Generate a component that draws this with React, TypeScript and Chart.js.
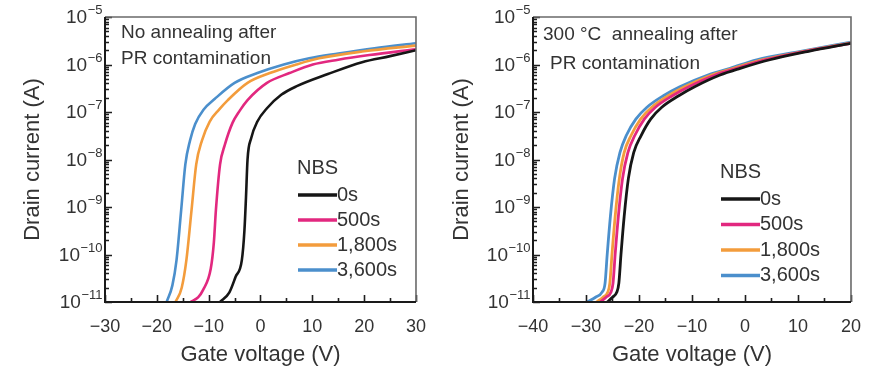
import React, { useEffect, useRef } from "react";
import { Chart, registerables } from "chart.js";

Chart.register(...registerables);

// ---------- shared labels ----------
const seriesLabels = ["0s", "500s", "1,800s", "3,600s"];
const seriesColors = ["#161616", "#e2287f", "#f39c3c", "#4b8fcc"];
const legendTitle = "NBS";
const xTitle = "Gate voltage (V)";
const yTitle = "Drain current (A)";
const yTickValues = [1e-11, 1e-10, 1e-9, 1e-8, 1e-7, 1e-6, 1e-5];
const yTickBase = "10";
const yTickExponents = ["\u221211", "\u221210", "\u22129", "\u22128", "\u22127", "\u22126", "\u22125"];
const leftNote = ["No annealing after", "PR contamination"];
const rightNote = ["300 \u00B0C  annealing after", "PR contamination"];

// ---------- left panel: no annealing ----------
const leftV0 = [-7.8, -6.0, -4.8, -3.6, -3.1, -2.8, -2.5, -1.8, -0.6, 1.25, 4.0, 7.0, 13.0, 19.6, 25.0, 30];
const leftI0 = [1.0e-11, 1.6e-11, 3.4e-11, 7.6e-11, 3.2e-10, 1.58e-9, 1.0e-8, 2.8e-8, 6.3e-8, 1.2e-7, 2.3e-7, 3.5e-7, 6.3e-7, 1.12e-6, 1.5e-6, 2.0e-6];
const leftV500 = [-13.5, -12.0, -11.1, -9.6, -9.0, -8.6, -7.8, -6.9, -5.4, -4.0, -2.5, 1.25, 5.6, 10.1, 15, 21, 30];
const leftI500 = [1.0e-11, 1.26e-11, 1.78e-11, 5.0e-11, 1.78e-10, 8.7e-10, 7.9e-9, 2.0e-8, 5.9e-8, 1.07e-7, 1.78e-7, 4.1e-7, 6.6e-7, 1.0e-6, 1.26e-6, 1.58e-6, 2.1e-6];
const leftV1800 = [-16.4, -15.2, -14.3, -13.3, -12.4, -11.3, -9.8, -8.0, -6.3, -2.5, 1.8, 6.9, 11.3, 20, 30];
const leftI1800 = [1.0e-11, 2.0e-11, 7.6e-11, 8.7e-10, 7.9e-9, 2.5e-8, 6.3e-8, 1.12e-7, 1.78e-7, 4.1e-7, 6.6e-7, 1.0e-6, 1.35e-6, 1.9e-6, 2.5e-6];
const leftV3600 = [-18.1, -17.0, -16.2, -15.3, -14.5, -13.6, -12.6, -11.0, -8.8, -5.0, -0.6, 4.5, 9.4, 15, 22, 30];
const leftI3600 = [1.0e-11, 2.24e-11, 7.6e-11, 8.7e-10, 7.9e-9, 2.5e-8, 5.6e-8, 1.12e-7, 1.9e-7, 4.1e-7, 6.6e-7, 1.0e-6, 1.35e-6, 1.7e-6, 2.2e-6, 2.8e-6];

// ---------- right panel: 300 °C annealing ----------
const rightV0 = [-26.0, -25.0, -24.2, -23.8, -23.4, -22.8, -22.0, -21.0, -19.6, -17.8, -15.7, -12.5, -9.5, -4.7, -0.9, 4.7, 12, 20];
const rightI0 = [1.0e-11, 1.26e-11, 1.6e-11, 2.5e-11, 1.0e-10, 6.3e-10, 4.0e-9, 1.4e-8, 3.2e-8, 7.1e-8, 1.26e-7, 2.2e-7, 3.4e-7, 6.0e-7, 8.3e-7, 1.26e-6, 1.9e-6, 2.8e-6];
const rightV500 = [-27.3, -26.2, -25.3, -24.9, -24.5, -23.9, -23.1, -22.1, -20.8, -19.0, -16.9, -13.7, -10.6, -5.6, -1.6, 4.0, 11.5, 20];
const rightI500 = [1.0e-11, 1.26e-11, 1.6e-11, 2.5e-11, 1.0e-10, 6.3e-10, 4.0e-9, 1.4e-8, 3.2e-8, 7.1e-8, 1.26e-7, 2.2e-7, 3.4e-7, 6.0e-7, 8.3e-7, 1.26e-6, 1.9e-6, 2.8e-6];
const rightV1800 = [-28.0, -26.8, -25.9, -25.5, -25.1, -24.5, -23.7, -22.8, -21.5, -19.7, -17.6, -14.5, -11.4, -6.3, -2.2, 3.4, 11.2, 20];
const rightI1800 = [1.0e-11, 1.26e-11, 1.6e-11, 2.5e-11, 1.0e-10, 6.3e-10, 4.0e-9, 1.4e-8, 3.2e-8, 7.1e-8, 1.26e-7, 2.2e-7, 3.4e-7, 6.0e-7, 8.3e-7, 1.26e-6, 1.9e-6, 2.85e-6];
const rightV3600 = [-29.8, -28.2, -27.0, -26.4, -26.0, -25.4, -24.6, -23.6, -22.4, -20.6, -18.5, -15.4, -12.3, -7.0, -2.8, 2.2, 10.5, 20];
const rightI3600 = [1.0e-11, 1.26e-11, 1.6e-11, 2.5e-11, 1.0e-10, 6.3e-10, 4.0e-9, 1.4e-8, 3.2e-8, 7.1e-8, 1.26e-7, 2.2e-7, 3.4e-7, 6.0e-7, 8.3e-7, 1.26e-6, 1.9e-6, 2.95e-6];

const FONT = '"Liberation Sans", Arial, Helvetica, sans-serif';
const TEXT = "#333333";

type PanelSpec = {
  width: number;
  xMin: number;
  xMax: number;
  yAxisWidth: number;
  padRight: number;
  yTitlePad: number;
  volts: number[][];
  currents: number[][];
  note: string[];
  noteX: number[];
  noteY: number[];
  legendX: number;
  legendTitleY: number;
  legendRowY: number;
  legendGap: number;
  legendLine: number;
  lineWidth: number;
};

const fmtX = (v: number) => (v < 0 ? "\u2212" + Math.abs(v) : String(v));

function framePlugin() {
  return {
    id: "frameTicks",
    afterDatasetsDraw(chart: any) {
      const { ctx, chartArea: a, scales } = chart;
      const xs = scales.x;
      const ys = scales.y;
      ctx.save();
      ctx.strokeStyle = "#1e1e1e";
      ctx.lineWidth = 1.6;
      ctx.beginPath();
      for (let v = xs.min; v <= xs.max + 1e-9; v += 5) {
        const px = Math.round(xs.getPixelForValue(v)) + 0.5;
        const len = Math.abs(v % 10) < 1e-9 ? 7 : 4;
        ctx.moveTo(px, a.bottom);
        ctx.lineTo(px, a.bottom - len);
      }
      for (let e = -11; e <= -5; e++) {
        for (let m = 1; m <= 9; m++) {
          const v = m * Math.pow(10, e);
          if (v > ys.max * 1.0001) break;
          const py = Math.round(ys.getPixelForValue(v)) + 0.5;
          const len = m === 1 ? 7 : 4;
          ctx.moveTo(a.left, py);
          ctx.lineTo(a.left + len, py);
        }
      }
      ctx.stroke();
      // top & right frame
      ctx.strokeStyle = "#6a6a6a";
      ctx.lineWidth = 1.6;
      ctx.beginPath();
      ctx.moveTo(a.left, a.top);
      ctx.lineTo(a.right, a.top);
      ctx.lineTo(a.right, a.bottom);
      ctx.stroke();
      // left & bottom axes
      ctx.strokeStyle = "#1a1a1a";
      ctx.lineWidth = 2;
      ctx.beginPath();
      ctx.moveTo(a.left, a.top);
      ctx.lineTo(a.left, a.bottom);
      ctx.lineTo(a.right, a.bottom);
      ctx.stroke();

      // y tick labels: "10" with superscript exponent
      ctx.fillStyle = TEXT;
      ctx.textAlign = "left";
      yTickValues.forEach((val, i) => {
        const py = ys.getPixelForValue(val);
        ctx.font = `13px ${FONT}`;
        const ew = ctx.measureText(yTickExponents[i]).width;
        ctx.font = `19px ${FONT}`;
        const bw = ctx.measureText(yTickBase).width;
        const right = a.left - 3;
        const bx = right - ew - bw;
        ctx.textBaseline = "middle";
        ctx.fillText(yTickBase, bx, py + 1);
        ctx.font = `13px ${FONT}`;
        ctx.textBaseline = "alphabetic";
        ctx.fillText(yTickExponents[i], bx + bw + 0.5, py - 3);
      });
      ctx.restore();
    },
  };
}

function notePlugin(spec: PanelSpec) {
  return {
    id: "notes",
    beforeDatasetsDraw(chart: any) {
      const ctx = chart.ctx;
      ctx.save();
      ctx.fillStyle = TEXT;
      ctx.font = `19px ${FONT}`;
      ctx.textAlign = "left";
      ctx.textBaseline = "alphabetic";
      spec.note.forEach((t, i) => ctx.fillText(t, spec.noteX[i], spec.noteY[i]));
      ctx.restore();
    },
    afterDraw(chart: any) {
      const ctx = chart.ctx;
      ctx.save();
      ctx.fillStyle = TEXT;
      ctx.font = `20px ${FONT}`;
      ctx.textAlign = "left";
      ctx.textBaseline = "middle";
      ctx.fillText(legendTitle, spec.legendX, spec.legendTitleY);
      chart.data.datasets.forEach((ds: any, i: number) => {
        const y = spec.legendRowY + i * spec.legendGap;
        ctx.strokeStyle = ds.borderColor;
        ctx.lineWidth = 3.5;
        ctx.beginPath();
        ctx.moveTo(spec.legendX + 1, y);
        ctx.lineTo(spec.legendX + 1 + spec.legendLine, y);
        ctx.stroke();
        ctx.fillStyle = TEXT;
        ctx.fillText(ds.label, spec.legendX + 1 + spec.legendLine, y);
      });
      ctx.restore();
    },
  };
}

function Panel({ spec }: { spec: PanelSpec }) {
  const ref = useRef<HTMLCanvasElement | null>(null);
  useEffect(() => {
    if (!ref.current) return;
    const chart = new Chart(ref.current, {
      type: "line",
      data: {
        datasets: spec.volts.map((vs, i) => ({
          label: seriesLabels[i],
          data: vs.map((v, j) => ({ x: v, y: spec.currents[i][j] })),
          borderColor: seriesColors[i],
          backgroundColor: seriesColors[i],
          borderWidth: spec.lineWidth,
          pointRadius: 0,
          fill: false,
          cubicInterpolationMode: "monotone",
        })),
      },
      options: {
        responsive: false,
        animation: false,
        events: [],
        layout: { padding: { left: 0, right: spec.padRight, top: 17, bottom: 0 } },
        plugins: {
          legend: { display: false },
          tooltip: { enabled: false },
          title: { display: false },
        },
        scales: {
          x: {
            type: "linear",
            min: spec.xMin,
            max: spec.xMax,
            grid: { display: false, drawTicks: false },
            border: { display: false },
            ticks: {
              stepSize: 10,
              padding: 14,
              color: TEXT,
              font: { family: FONT, size: 18 },
              maxRotation: 0,
              autoSkip: false,
              callback: (v: any) => fmtX(Number(v)),
            },
            title: {
              display: true,
              text: xTitle,
              color: TEXT,
              font: { family: FONT, size: 22 },
              padding: { top: 3, bottom: 0 },
            },
            afterFit: (s: any) => {
              s.height = 66;
            },
          },
          y: {
            type: "logarithmic",
            min: 1e-11,
            max: 1e-5,
            grid: { display: false, drawTicks: false },
            border: { display: false },
            ticks: {
              display: false,
              autoSkip: false,
            },
            title: {
              display: true,
              text: yTitle,
              color: TEXT,
              font: { family: FONT, size: 22 },
              padding: { top: spec.yTitlePad, bottom: 0 },
            },
            afterFit: (s: any) => {
              s.width = spec.yAxisWidth;
            },
          },
        },
      } as any,
      plugins: [notePlugin(spec), framePlugin()],
    });
    return () => chart.destroy();
  }, [spec]);
  return <canvas ref={ref} width={spec.width} height={368} style={{ display: "block" }} />;
}

const leftSpec: PanelSpec = {
  width: 440,
  xMin: -30,
  xMax: 30,
  yAxisWidth: 105,
  padRight: 18,
  yTitlePad: 20,
  volts: [leftV0, leftV500, leftV1800, leftV3600],
  currents: [leftI0, leftI500, leftI1800, leftI3600],
  note: leftNote,
  noteX: [121, 121],
  noteY: [38, 64],
  legendX: 297,
  legendTitleY: 168,
  legendRowY: 195,
  legendGap: 25,
  legendLine: 39,
  lineWidth: 2.6,
};

const rightSpec: PanelSpec = {
  width: 435,
  xMin: -40,
  xMax: 20,
  yAxisWidth: 93,
  padRight: 24,
  yTitlePad: 9,
  volts: [rightV0, rightV500, rightV1800, rightV3600],
  currents: [rightI0, rightI500, rightI1800, rightI3600],
  note: rightNote,
  noteX: [103, 110],
  noteY: [40, 69],
  legendX: 280,
  legendTitleY: 172,
  legendRowY: 199,
  legendGap: 25.5,
  legendLine: 39,
  lineWidth: 2.8,
};

export default function App() {
  return (
    <div
      style={{
        position: "absolute",
        left: 0,
        top: 0,
        width: 875,
        height: 368,
        background: "#ffffff",
        display: "flex",
        flexDirection: "row",
      }}
    >
      <Panel spec={leftSpec} />
      <Panel spec={rightSpec} />
    </div>
  );
}
